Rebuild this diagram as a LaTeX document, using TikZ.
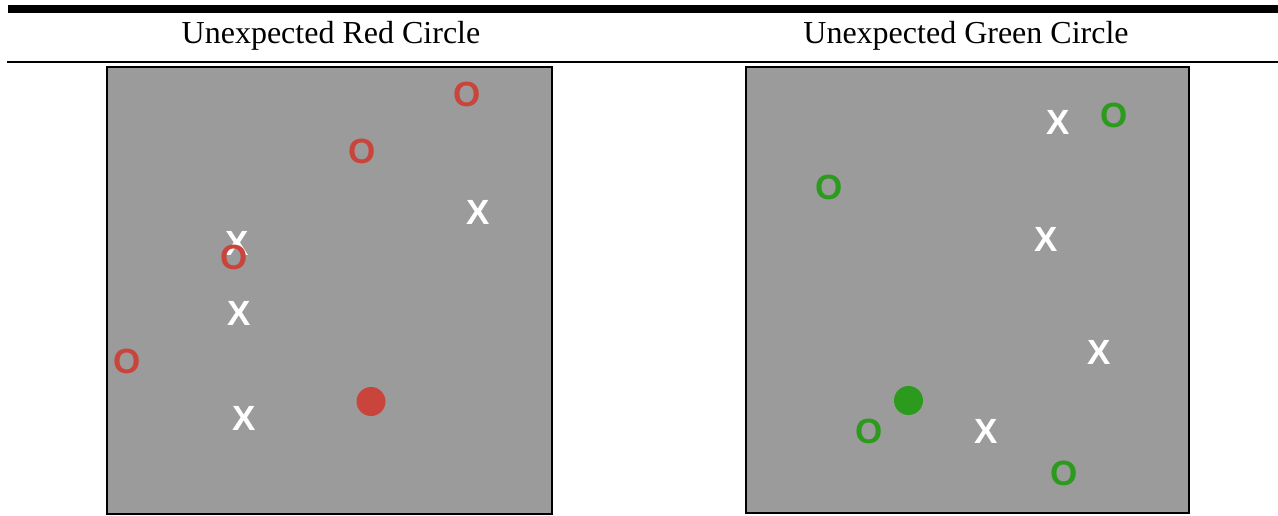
\documentclass[tikz,border=0pt]{standalone}
\usepackage{fontspec}
\setmainfont{Liberation Serif}
\newfontfamily\symfont{Liberation Sans}
\definecolor{panelgray}{HTML}{9B9B9B}
\definecolor{mred}{HTML}{C9443B}
\definecolor{mgreen}{HTML}{2C9A1C}
\begin{document}
\begin{tikzpicture}[x=1pt,y=-1pt,
  header/.style={font=\fontsize{32}{36}\selectfont, inner sep=0pt, anchor=base},
  panel/.style={draw=black, line width=2pt, fill=panelgray},
  sym/.style={font=\symfont\bfseries\fontsize{35}{40}\selectfont, inner sep=0pt, anchor=center},
  xm/.style={sym, text=white},
  om/.style={sym, text=#1},
  dotm/.style={circle, fill=#1, inner sep=0pt, minimum size=29pt}]
\useasboundingbox (0,0) rectangle (1278,515);
% rules
\fill[black] (8,5) rectangle (1278,13);
\fill[black] (7,60.7) rectangle (1278,62.7);
% headers
\node[header] (h1) at (331,43) {Unexpected Red Circle};
\node[header] (h2) at (966,43) {Unexpected Green Circle};
% panels
\draw[panel] (106.5,66.5) rectangle (551.5,513.5);
\draw[panel] (745.5,67) rectangle (1188.5,512.5);
% left panel
\node[om=mred] (l1) at (467,94) {O};
\node[om=mred] (l2) at (362,151) {O};
\node[xm] (l3) at (478,212) {X};
\node[xm] (l4) at (237,243) {X};
\node[om=mred] (l5) at (234,257) {O};
\node[xm] (l6) at (239,313) {X};
\node[om=mred] (l7) at (127,361) {O};
\node[dotm=mred] (l8) at (371,401.5) {};
\node[xm] (l9) at (244,418) {X};
% right panel
\node[xm] (r1) at (1058,122) {X};
\node[om=mgreen] (r2) at (1114,115) {O};
\node[om=mgreen] (r3) at (829,187) {O};
\node[xm] (r4) at (1046,239) {X};
\node[xm] (r5) at (1099,352) {X};
\node[dotm=mgreen] (r6) at (908.5,400.5) {};
\node[om=mgreen] (r7) at (869,431) {O};
\node[xm] (r8) at (986,431) {X};
\node[om=mgreen] (r9) at (1064,473) {O};
\end{tikzpicture}
\end{document}
